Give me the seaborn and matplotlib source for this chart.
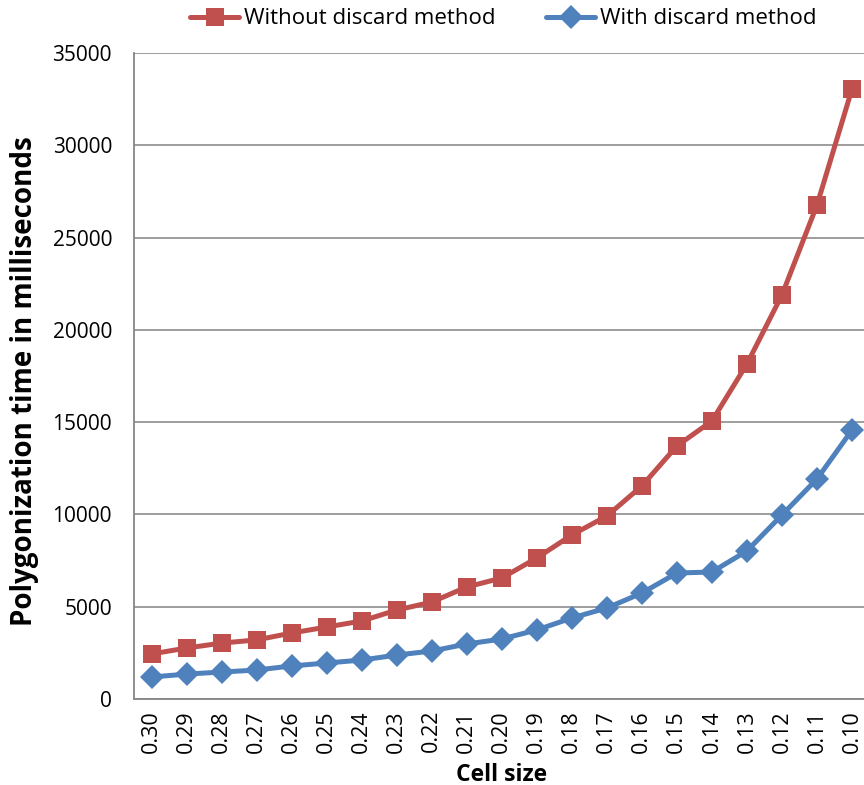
import matplotlib
matplotlib.use("Agg")
import matplotlib.pyplot as plt
import seaborn as sns
import pandas as pd
import numpy as np
from matplotlib.ticker import FixedLocator

cell_sizes = ["0.30", "0.29", "0.28", "0.27", "0.26", "0.25", "0.24", "0.23", "0.22", "0.21",
              "0.20", "0.19", "0.18", "0.17", "0.16", "0.15", "0.14", "0.13", "0.12", "0.11", "0.10"]
without_discard = [2440, 2760, 3030, 3200, 3575, 3900, 4225, 4820, 5250, 6070,
                   6555, 7640, 8885, 9915, 11540, 13710, 15060, 18150, 21890, 26760, 33045]
with_discard = [1190, 1350, 1460, 1570, 1790, 1950, 2110, 2380, 2600, 2980,
                3250, 3740, 4390, 4930, 5740, 6825, 6880, 8020, 9970, 11920, 14570]
series_names = ["Without discard method", "With discard method"]

sns.set_style("white")
plt.rcParams['font.family'] = ['Open Sans', 'DejaVu Sans']
plt.rcParams['text.color'] = 'black'
plt.rcParams['axes.labelcolor'] = 'black'
plt.rcParams['xtick.labelcolor'] = 'black'
plt.rcParams['ytick.labelcolor'] = 'black'

df = pd.DataFrame({
    "idx": list(range(len(cell_sizes))) * 2,
    "value": without_discard + with_discard,
    "series": [series_names[0]] * len(cell_sizes) + [series_names[1]] * len(cell_sizes),
})

fig = plt.figure(figsize=(8.64, 7.85), dpi=100)
ax = fig.add_axes([134/864, 1 - 699/785, (869.5 - 134)/864, (699 - 53)/785])

palette = {series_names[0]: "#C0504D", series_names[1]: "#4F81BD"}
markers = {series_names[0]: "s", series_names[1]: "D"}
sns.lineplot(data=df, x="idx", y="value", hue="series", style="series",
             palette=palette, markers=markers, dashes=False, linewidth=3.6,
             markersize=13, markeredgewidth=0, ax=ax, legend=True)
for line in ax.lines:
    if line.get_marker() == "D":
        line.set_markersize(12)

ax.set_xlim(-0.5, len(cell_sizes) - 0.5)
ax.set_ylim(0, 35000)
ax.set_yticks(np.arange(0, 35001, 5000))
ax.set_yticklabels([str(v) for v in range(0, 35001, 5000)], fontsize=15)
ax.set_xticks(range(len(cell_sizes)))
ax.set_xticklabels(cell_sizes, rotation=90, fontsize=15.5)
ax.xaxis.set_minor_locator(FixedLocator(np.arange(-0.5, len(cell_sizes), 1)))
ax.tick_params(axis="x", which="major", length=0, pad=8)
ax.tick_params(axis="x", which="minor", length=5, width=1.3, color="#868686", direction="out")
ax.tick_params(axis="y", which="major", length=5.8, width=1.3, color="#868686", direction="out", pad=10)
ax.grid(axis="y", color="#8c8c8c", linewidth=1.2)
ax.set_axisbelow(True)
for s in ["top", "right"]:
    ax.spines[s].set_visible(False)
for s in ["left", "bottom"]:
    ax.spines[s].set_color("#868686")
    ax.spines[s].set_linewidth(1.3)

ax.set_xlabel("Cell size", fontsize=16.5, fontweight="bold", labelpad=7)
ax.set_ylabel("Polygonization time in milliseconds", fontsize=20, fontweight="bold")
ax.yaxis.label.set_verticalalignment("center")
ax.yaxis.label.set_horizontalalignment("center")
ax.yaxis.set_label_coords(-(134 - 25) / 735.5, (699 - 381) / (699 - 53))

handles, labels = ax.get_legend_handles_labels()
leg = ax.legend(handles, labels, loc="upper center", bbox_to_anchor=(0.502, 1.1),
                ncol=2, frameon=False, fontsize=16, handlelength=2.2, columnspacing=2.3,
                handletextpad=0.2)

fig.savefig("out.png", dpi=100)
